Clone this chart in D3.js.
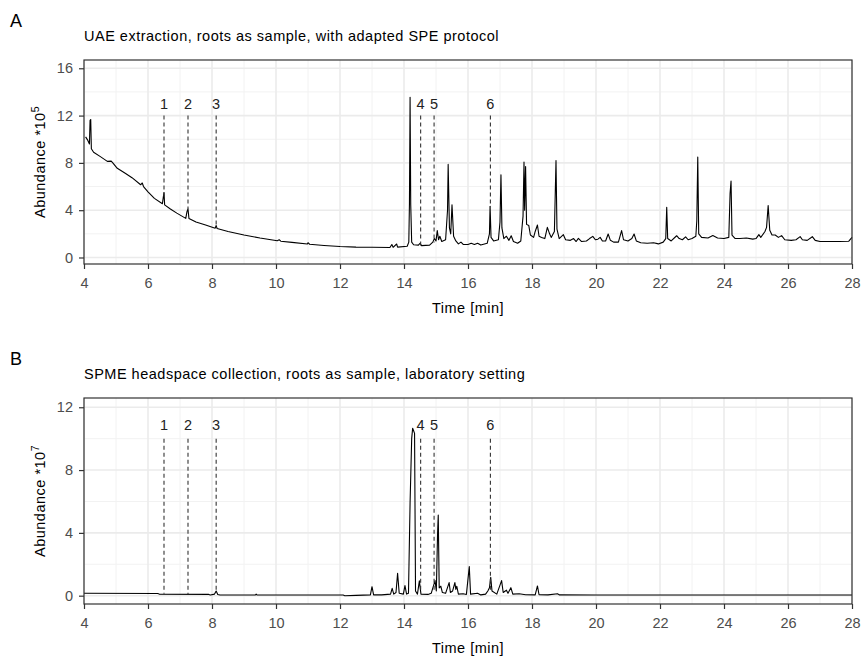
<!DOCTYPE html>
<html>
<head>
<meta charset="utf-8">
<script src="https://cdn.jsdelivr.net/npm/d3@7"></script>
<style>
  body { margin: 0; background: #fff; }
  svg text { font-family: "Liberation Sans", Arial, sans-serif; }
</style>
</head>
<body>
<div id="chart"></div>
<script>
// trace A: UAE extraction (time [min], abundance *10^5)
const timeA = [
  4.05, 4.12, 4.17, 4.19, 4.21, 4.23, 4.3, 4.5, 4.73, 4.85, 4.9, 5.04, 5.3, 5.5, 5.77, 5.82, 5.86, 6.0, 6.2, 6.45,
  6.5, 6.52, 6.7, 6.9, 7.18, 7.22, 7.25, 7.28, 7.5, 7.8, 8.1, 8.13, 8.16, 8.5, 9.0, 9.5, 10.04, 10.1, 10.15, 10.5,
  10.98, 11.0, 11.05, 11.5, 12.0, 12.5, 13.0, 13.56, 13.62, 13.66, 13.77, 13.8, 14.1, 14.15, 14.17, 14.19, 14.21, 14.24, 14.3, 14.45,
  14.5, 14.55, 14.8, 14.9, 14.95, 15.0, 15.04, 15.08, 15.12, 15.18, 15.3, 15.36, 15.38, 15.42, 15.46, 15.5, 15.55, 15.62, 15.7, 15.78,
  15.85, 16.0, 16.1, 16.2, 16.3, 16.4, 16.6, 16.67, 16.69, 16.72, 16.8, 16.95, 17.0, 17.03, 17.06, 17.12, 17.2, 17.28, 17.35, 17.42,
  17.55, 17.65, 17.72, 17.75, 17.77, 17.8, 17.83, 17.9, 17.95, 18.05, 18.1, 18.17, 18.22, 18.3, 18.4, 18.48, 18.55, 18.6, 18.7, 18.75,
  18.78, 18.85, 18.98, 19.05, 19.2, 19.3, 19.38, 19.45, 19.55, 19.7, 19.8, 19.9, 19.98, 20.06, 20.13, 20.2, 20.3, 20.38, 20.45, 20.55,
  20.7, 20.8, 20.86, 21.0, 21.12, 21.19, 21.26, 21.4, 21.6, 21.8, 21.95, 22.1, 22.18, 22.21, 22.24, 22.35, 22.52, 22.6, 22.7, 22.8,
  22.88, 23.0, 23.12, 23.15, 23.18, 23.21, 23.3, 23.5, 23.65, 23.8, 24.0, 24.15, 24.19, 24.22, 24.25, 24.35, 24.5, 24.7, 24.9, 25.0,
  25.09, 25.15, 25.28, 25.33, 25.38, 25.43, 25.5, 25.6, 25.7, 25.8, 25.9, 26.1, 26.25, 26.38, 26.45, 26.6, 26.76, 26.85, 27.0, 27.3,
  27.6, 27.9, 28.0
]
const abundA = [
  10.2, 9.9, 9.6, 11.6, 11.67, 9.2, 8.9, 8.55, 8.13, 8.15, 8.0, 7.54, 7.1, 6.75, 6.15, 6.3, 6.0, 5.55, 5.0, 4.55,
  5.5, 4.45, 4.1, 3.75, 3.31, 3.9, 4.1, 3.3, 3.0, 2.75, 2.48, 2.7, 2.45, 2.2, 1.9, 1.65, 1.42, 1.5, 1.38, 1.28,
  1.14, 1.25, 1.12, 1.02, 0.93, 0.88, 0.86, 0.85, 1.1, 0.86, 1.14, 0.88, 0.95, 1.3, 4.5, 13.54, 4.5, 1.3, 1.08, 1.05,
  1.2, 1.0, 1.05, 1.3, 1.6, 1.4, 2.27, 1.5, 1.8, 1.35, 1.5, 4.0, 7.87, 2.5, 2.0, 4.45, 1.8, 1.4, 1.15, 1.3,
  1.1, 1.1, 1.2, 1.1, 1.2, 1.05, 1.2, 2.0, 4.33, 1.7, 1.4, 1.5, 3.0, 7.0, 2.5, 1.6, 1.8, 1.45, 1.84, 1.35,
  1.2, 1.4, 3.5, 8.07, 4.0, 7.7, 2.8, 2.7, 1.9, 1.7, 2.2, 2.75, 1.8, 1.7, 1.6, 2.55, 2.0, 1.7, 2.2, 8.2,
  2.4, 1.6, 1.93, 1.5, 1.45, 1.6, 1.35, 1.62, 1.35, 1.4, 1.6, 1.79, 1.5, 1.55, 1.7, 1.4, 1.4, 1.99, 1.45, 1.3,
  1.3, 2.27, 1.5, 1.4, 1.6, 1.99, 1.4, 1.25, 1.2, 1.25, 1.15, 1.3, 1.6, 4.25, 1.6, 1.4, 1.84, 1.6, 1.5, 1.75,
  1.5, 1.6, 1.8, 3.1, 8.5, 2.0, 1.7, 1.65, 1.85, 1.65, 1.6, 1.7, 5.4, 6.46, 1.9, 1.6, 1.6, 1.65, 1.55, 1.6,
  1.93, 1.7, 2.2, 2.55, 4.4, 2.3, 1.9, 1.9, 1.7, 1.85, 1.5, 1.45, 1.5, 1.76, 1.5, 1.45, 1.76, 1.45, 1.35, 1.35,
  1.35, 1.38, 1.7
]

// trace B: SPME headspace (time [min], abundance *10^7)
const timeB = [
  4.0, 6.3, 6.35, 7.9, 7.95, 8.08, 8.13, 8.18, 8.25, 9.35, 9.38, 9.41, 12.1, 12.15, 12.5, 12.95, 13.0, 13.05, 13.3, 13.58,
  13.63, 13.68, 13.75, 13.8, 13.85, 13.98, 14.03, 14.08, 14.14, 14.19, 14.24, 14.27, 14.3, 14.33, 14.36, 14.42, 14.48, 14.53, 14.75, 14.85,
  14.97, 15.01, 15.05, 15.07, 15.1, 15.15, 15.2, 15.3, 15.41, 15.45, 15.52, 15.59, 15.62, 15.65, 15.7, 15.85, 15.95, 16.04, 16.08, 16.3,
  16.4, 16.55, 16.62, 16.67, 16.71, 16.75, 16.9, 17.05, 17.1, 17.2, 17.25, 17.34, 17.4, 17.6, 17.8, 18.1, 18.17, 18.22, 18.5, 18.8,
  18.85, 20.0, 28.0
]
const abundB = [
  0.15, 0.14, 0.1, 0.08, 0.04, 0.1, 0.3, 0.08, 0.04, 0.04, 0.1, 0.04, 0.04, 0.0, 0.02, 0.05, 0.57, 0.05, 0.05, 0.1,
  0.47, 0.1, 0.2, 1.43, 0.15, 0.1, 0.64, 0.1, 0.15, 5.9, 10.0, 10.66, 10.5, 10.34, 0.3, 0.1, 0.94, 0.1, 0.08, 0.15,
  0.96, 0.3, 4.0, 5.14, 0.5, 0.6, 0.2, 0.15, 0.83, 0.2, 0.3, 0.83, 0.4, 0.6, 0.1, 0.12, 0.08, 1.85, 0.1, 0.15,
  0.05, 0.1, 0.3, 0.5, 1.17, 0.3, 0.1, 0.96, 0.2, 0.35, 0.15, 0.51, 0.1, 0.12, 0.06, 0.05, 0.62, 0.06, 0.05, 0.12,
  0.05, 0.04, 0.04
]

// marked compounds
const markLabels = ['1', '2', '3', '4', '5', '6']
const markTimes = [6.5, 7.25, 8.13, 14.52, 14.94, 16.7]
const markEndA = [5.1, 4.1, 2.55, 1.0, 1.27, 4.25]
const markEndB = [0.12, 0.1, 0.3, 0.25, 0.2, 0.2]

const xTicks = [4, 6, 8, 10, 12, 14, 16, 18, 20, 22, 24, 26, 28]
const xMinor = [5, 7, 9, 11, 13, 15, 17, 19, 21, 23, 25, 27]

const panels = [
  { tag: 'A', title: 'UAE extraction, roots as sample, with adapted SPE protocol', exp: '5',
    time: timeA, abund: abundA, ends: markEndA, markTop: 12, labelY: 12.55,
    top: 60, bottom: 264, yDomain: [-0.55, 16.7], yTicks: [0, 4, 8, 12, 16], yMinor: [2, 6, 10, 14] },
  { tag: 'B', title: 'SPME headspace collection, roots as sample, laboratory setting', exp: '7',
    time: timeB, abund: abundB, ends: markEndB, markTop: 10, labelY: 10.55,
    top: 398, bottom: 604, yDomain: [-0.53, 12.59], yTicks: [0, 4, 8, 12], yMinor: [2, 6, 10] }
]

const width = 863
const height = 657
const left = 84
const right = 852
const fontSize = 14.5
const spacing = '0.5px'

const svg = d3.select('#chart')
  .append('svg')
  .attr('width', width)
  .attr('height', height)

const x = d3.scaleLinear().domain([4, 28]).range([left, right])

panels.forEach((p) => {
  const y = d3.scaleLinear().domain(p.yDomain).range([p.bottom, p.top])
  const g = svg.append('g')

  // tag and title
  g.append('text')
    .attr('x', 10)
    .attr('y', p.top - 33)
    .attr('font-size', 18)
    .text(p.tag)
  g.append('text')
    .attr('x', left)
    .attr('y', p.top - 19)
    .attr('font-size', fontSize)
    .attr('letter-spacing', spacing)
    .text(p.title)

  // grid
  g.selectAll('.vminor').data(xMinor).enter().append('line')
    .attr('x1', (d) => x(d)).attr('x2', (d) => x(d))
    .attr('y1', p.top).attr('y2', p.bottom)
    .attr('stroke', '#f2f2f2').attr('stroke-width', 1)
  g.selectAll('.hminor').data(p.yMinor).enter().append('line')
    .attr('x1', left).attr('x2', right)
    .attr('y1', (d) => y(d)).attr('y2', (d) => y(d))
    .attr('stroke', '#f2f2f2').attr('stroke-width', 1)
  g.selectAll('.vmajor').data(xTicks).enter().append('line')
    .attr('x1', (d) => x(d)).attr('x2', (d) => x(d))
    .attr('y1', p.top).attr('y2', p.bottom)
    .attr('stroke', '#ebebeb').attr('stroke-width', 1.6)
  g.selectAll('.hmajor').data(p.yTicks).enter().append('line')
    .attr('x1', left).attr('x2', right)
    .attr('y1', (d) => y(d)).attr('y2', (d) => y(d))
    .attr('stroke', '#ebebeb').attr('stroke-width', 1.6)

  // trace
  const pts = p.time.map((t, i) => [t, p.abund[i]])
  const line = d3.line().x((d) => x(d[0])).y((d) => y(d[1]))
  g.append('path')
    .datum(pts)
    .attr('d', line)
    .attr('fill', 'none')
    .attr('stroke', '#000')
    .attr('stroke-width', 1.1)
    .attr('stroke-linejoin', 'round')

  // dashed markers
  g.selectAll('.mark').data(markTimes).enter().append('line')
    .attr('x1', (d) => x(d)).attr('x2', (d) => x(d))
    .attr('y1', y(p.markTop))
    .attr('y2', (d, i) => y(p.ends[i]))
    .attr('stroke', '#333')
    .attr('stroke-width', 1.1)
    .attr('stroke-dasharray', '4,3')
  g.selectAll('.marklab').data(markLabels).enter().append('text')
    .attr('x', (d, i) => x(markTimes[i]))
    .attr('y', y(p.labelY))
    .attr('text-anchor', 'middle')
    .attr('font-size', fontSize)
    .attr('fill', '#222')
    .text((d) => d)

  // border
  g.append('rect')
    .attr('x', left).attr('y', p.top)
    .attr('width', right - left).attr('height', p.bottom - p.top)
    .attr('fill', 'none')
    .attr('stroke', '#333')
    .attr('stroke-width', 1.2)

  // axes
  const xAxis = g.append('g')
    .attr('transform', `translate(0,${p.bottom})`)
    .call(d3.axisBottom(x).tickValues(xTicks).tickSize(5).tickPadding(9).tickFormat(d3.format('d')))
  const yAxis = g.append('g')
    .attr('transform', `translate(${left},0)`)
    .call(d3.axisLeft(y).tickValues(p.yTicks).tickSize(5).tickPadding(6).tickFormat(d3.format('d')))
  ;[xAxis, yAxis].forEach((a) => {
    a.select('.domain').remove()
    a.selectAll('line').attr('stroke', '#333').attr('stroke-width', 1.2)
    a.selectAll('text').attr('font-size', fontSize).attr('fill', '#4d4d4d')
      .attr('font-family', '"Liberation Sans", Arial, sans-serif')
  })

  // axis titles
  g.append('text')
    .attr('x', (left + right) / 2)
    .attr('y', p.bottom + 49)
    .attr('text-anchor', 'middle')
    .attr('font-size', fontSize)
    .attr('letter-spacing', spacing)
    .text('Time [min]')
  const yt = g.append('text')
    .attr('transform', `translate(45,${(p.top + p.bottom) / 2}) rotate(-90)`)
    .attr('text-anchor', 'middle')
    .attr('font-size', fontSize)
    .attr('letter-spacing', spacing)
  yt.append('tspan').text('Abundance *10')
  yt.append('tspan').attr('dy', -6).attr('font-size', 10.5).text(p.exp)
})
</script>
</body>
</html>
